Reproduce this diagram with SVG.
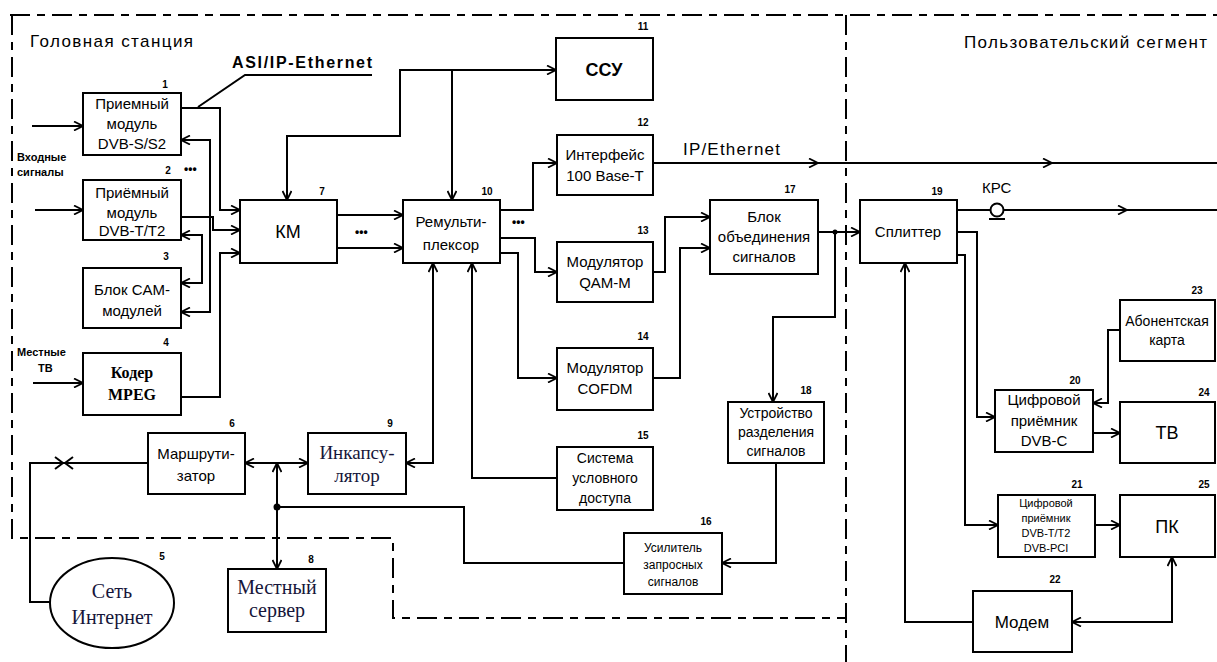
<svg xmlns="http://www.w3.org/2000/svg" width="1217" height="662" viewBox="0 0 1217 662">
  <style>
    .box { fill: #fff; stroke: #000; stroke-width: 2; }
    .ln { fill: none; stroke: #000; stroke-width: 2; }
    .frame { fill: none; stroke: #000; stroke-width: 2; stroke-dasharray: 20 7 8 7; }
    .t { font-family: "Liberation Sans", Arial, sans-serif; font-size: 14px; fill: #000; text-anchor: middle; }
    .f15 { font-size: 15px; }
    .big { font-size: 18px; }
    .sm { font-size: 12px; }
    .xs { font-size: 11px; }
    .serif { font-family: "Liberation Serif", "Times New Roman", serif; fill: #16163a; font-size: 20px; }
    .num { font-family: "Liberation Sans", Arial, sans-serif; font-size: 10px; font-weight: bold; fill: #000; text-anchor: middle; }
    .lbl { font-family: "Liberation Sans", Arial, sans-serif; fill: #000; }
  </style>
  <defs>
    <marker id="a" viewBox="0 0 10 10" refX="10" refY="5" markerWidth="10" markerHeight="10" markerUnits="userSpaceOnUse" orient="auto-start-reverse">
      <path d="M1,0.5 L10,5 L1,9.5" fill="none" stroke="#000" stroke-width="1.8"/>
    </marker>
  </defs>

  <rect width="1217" height="662" fill="#fff"/>

  <!-- area borders -->
  <g id="frame">
    <path class="frame" d="M10,15 H1217"/>
    <path class="frame" d="M12,15 V538 H393 V618 H846"/>
    <path class="frame" d="M846,15 V662"/>
    <text class="lbl" x="30" y="47" style="font-size:17px" textLength="163">Головная станция</text>
    <text class="lbl" x="964" y="48" style="font-size:17px" textLength="243">Пользовательский сегмент</text>
  </g>

  <!-- connectors -->
  <g id="connectors">
    <!-- input signals -->
    <path class="ln" d="M32,126 H83" marker-end="url(#a)"/>
    <path class="ln" d="M35,210 H83" marker-end="url(#a)"/>
    <path class="ln" d="M33,383 H83" marker-end="url(#a)"/>
    <!-- receivers / encoder to KM -->
    <path class="ln" d="M181,108 H220 V210 H240" marker-end="url(#a)"/>
    <path class="ln" d="M181,217 H213 V230 H240" marker-end="url(#a)"/>
    <path class="ln" d="M181,397 H220 V253 H240" marker-end="url(#a)"/>
    <!-- CAM links -->
    <path class="ln" d="M181,140 H210 V312 H181" marker-start="url(#a)" marker-end="url(#a)"/>
    <path class="ln" d="M181,235 H202 V283 H181" marker-start="url(#a)" marker-end="url(#a)"/>
    <!-- ASI/IP-Ethernet leader -->
    <path class="ln" d="M198,107 L245,75 H372" stroke-width="1.5"/>
    <!-- KM to remux -->
    <path class="ln" d="M337,215 H403" marker-end="url(#a)"/>
    <path class="ln" d="M337,248 H403" marker-end="url(#a)"/>
    <!-- control bus -->
    <path class="ln" d="M556,70 H400 V136 H287 V200" marker-start="url(#a)" marker-end="url(#a)"/>
    <path class="ln" d="M452,70 V200" marker-end="url(#a)"/>
    <!-- remux outputs -->
    <path class="ln" d="M500,210 H533 V163 H557" marker-end="url(#a)"/>
    <path class="ln" d="M500,238 H535 V272 H557" marker-end="url(#a)"/>
    <path class="ln" d="M500,253 H518 V378 H557" marker-end="url(#a)"/>
    <!-- IP/Ethernet -->
    <path class="ln" d="M653,163 H818" marker-end="url(#a)"/>
    <path class="ln" d="M818,163 H1052" marker-end="url(#a)"/>
    <path class="ln" d="M1052,163 H1217"/>
    <!-- modulators to combiner -->
    <path class="ln" d="M653,272 H665 V217 H710" marker-end="url(#a)"/>
    <path class="ln" d="M653,378 H680 V248 H710" marker-end="url(#a)"/>
    <!-- combiner to splitter and return path -->
    <path class="ln" d="M818,232 H860" marker-end="url(#a)"/>
    <circle cx="835" cy="232" r="2.5"/>
    <path class="ln" d="M835,232 V317 H773 V402" marker-end="url(#a)"/>
    <path class="ln" d="M776,463 V563 H722" marker-end="url(#a)"/>
    <path class="ln" d="M624,563 H464 V507 H277"/>
    <circle cx="277" cy="507" r="3.5"/>
    <path class="ln" d="M277,507 V463" marker-end="url(#a)"/>
    <path class="ln" d="M277,507 V569" marker-end="url(#a)"/>
    <!-- router / encapsulator / CAS -->
    <path class="ln" d="M245,463 H308" marker-start="url(#a)" marker-end="url(#a)"/>
    <path class="ln" d="M433,263 V463 H406" marker-start="url(#a)" marker-end="url(#a)"/>
    <path class="ln" d="M557,478 H472 V263" marker-end="url(#a)"/>
    <!-- router to internet -->
    <path class="ln" d="M148,463 H30 V602 H51"/>
    <polyline class="ln" points="55,457 63,463 55,469"/>
    <polyline class="ln" points="73,457 65,463 73,469"/>
    <!-- subscriber side -->
    <path class="ln" d="M957,210 H1127" marker-end="url(#a)"/>
    <path class="ln" d="M1127,210 H1217"/>
    <circle cx="997" cy="210" r="6.5" fill="#fff" stroke="#000" stroke-width="2"/>
    <path class="ln" d="M989,219 H1005"/>
    <path class="ln" d="M957,232 H977 V417 H995" marker-end="url(#a)"/>
    <path class="ln" d="M957,255 H965 V525 H998" marker-end="url(#a)"/>
    <path class="ln" d="M973,622 H905 V263" marker-end="url(#a)"/>
    <path class="ln" d="M1120,330 H1108 V403 H1093" marker-end="url(#a)"/>
    <path class="ln" d="M1093,433 H1120" marker-end="url(#a)"/>
    <path class="ln" d="M1095,525 H1120" marker-end="url(#a)"/>
    <path class="ln" d="M1172,557 V622 H1072" marker-start="url(#a)" marker-end="url(#a)"/>
  </g>

  <!-- free labels -->
  <g id="labels">
    <text class="lbl" x="232" y="68" style="font-size:16px;font-weight:bold" textLength="140">ASI/IP-Ethernet</text>
    <text class="lbl" x="683" y="155" style="font-size:17px" textLength="97">IP/Ethernet</text>
    <text class="lbl" x="982" y="193" style="font-size:15px">КРС</text>
    <text class="lbl" x="17" y="161" style="font-size:11px;font-weight:bold">Входные</text>
    <text class="lbl" x="17" y="176" style="font-size:11px;font-weight:bold">сигналы</text>
    <text class="lbl" x="17" y="356" style="font-size:11px;font-weight:bold">Местные</text>
    <text class="lbl" x="38" y="372" style="font-size:11px;font-weight:bold">ТВ</text>
    <text class="lbl" x="184" y="173" style="font-size:12px;font-weight:bold">•••</text>
    <text class="lbl" x="355" y="236" style="font-size:12px;font-weight:bold">•••</text>
    <text class="lbl" x="512" y="226" style="font-size:12px;font-weight:bold">•••</text>
  </g>

  <g id="n1">
    <rect class="box" x="83" y="93" width="98" height="62"/>
    <text class="num" x="165" y="88">1</text>
    <text class="t f15" x="132" y="109">Приемный</text>
    <text class="t f15" x="132" y="129">модуль</text>
    <text class="t f15" x="132" y="149">DVB-S/S2</text>
  </g>
  <g id="n2">
    <rect class="box" x="83" y="180" width="98" height="60"/>
    <text class="num" x="168" y="174">2</text>
    <text class="t f15" x="132" y="198">Приёмный</text>
    <text class="t f15" x="132" y="218">модуль</text>
    <text class="t f15" x="132" y="236">DVB-T/T2</text>
  </g>
  <g id="n3">
    <rect class="box" x="83" y="268" width="98" height="60"/>
    <text class="num" x="166" y="260">3</text>
    <text class="t f15" x="132" y="295">Блок CAM-</text>
    <text class="t f15" x="132" y="316">модулей</text>
  </g>
  <g id="n4">
    <rect class="box" x="83" y="353" width="98" height="62"/>
    <text class="num" x="166" y="346">4</text>
    <text class="t serif" x="132" y="378" style="font-size:16px;font-weight:bold;fill:#000">Кодер</text>
    <text class="t serif" x="132" y="400" style="font-size:16px;font-weight:bold;fill:#000">MPEG</text>
  </g>
  <g id="n5">
    <ellipse cx="112" cy="603" rx="62" ry="45" fill="#fff" stroke="#000" stroke-width="2"/>
    <text class="num" x="162" y="560">5</text>
    <text class="t serif" x="112" y="598">Сеть</text>
    <text class="t serif" x="112" y="624">Интернет</text>
  </g>
  <g id="n6">
    <rect class="box" x="148" y="433" width="97" height="61"/>
    <text class="num" x="232" y="427">6</text>
    <text class="t f15" x="196" y="459">Маршрути-</text>
    <text class="t f15" x="196" y="481">затор</text>
  </g>
  <g id="n7">
    <rect class="box" x="240" y="200" width="97" height="63"/>
    <text class="num" x="322" y="195">7</text>
    <text class="t big" x="288" y="238">КМ</text>
  </g>
  <g id="n8">
    <rect class="box" x="228" y="569" width="98" height="63"/>
    <text class="num" x="311" y="563">8</text>
    <text class="t serif" x="277" y="594">Местный</text>
    <text class="t serif" x="277" y="617">сервер</text>
  </g>
  <g id="n9">
    <rect class="box" x="308" y="433" width="98" height="61"/>
    <text class="num" x="390" y="427">9</text>
    <text class="t serif" x="357" y="459" style="font-size:19px">Инкапсу-</text>
    <text class="t serif" x="357" y="482" style="font-size:19px">лятор</text>
  </g>
  <g id="n10">
    <rect class="box" x="403" y="200" width="97" height="63"/>
    <text class="num" x="487" y="195">10</text>
    <text class="t f15" x="451" y="227">Ремульти-</text>
    <text class="t f15" x="451" y="250">плексор</text>
  </g>
  <g id="n11">
    <rect class="box" x="556" y="38" width="97" height="62"/>
    <text class="num" x="643" y="30">11</text>
    <text class="t" x="604" y="76" style="font-size:18px;font-weight:bold">ССУ</text>
  </g>
  <g id="n12">
    <rect class="box" x="557" y="135" width="96" height="60"/>
    <text class="num" x="643" y="126">12</text>
    <text class="t f15" x="605" y="160">Интерфейс</text>
    <text class="t f15" x="605" y="181">100 Base-T</text>
  </g>
  <g id="n13">
    <rect class="box" x="557" y="242" width="96" height="60"/>
    <text class="num" x="643" y="234">13</text>
    <text class="t f15" x="605" y="267">Модулятор</text>
    <text class="t f15" x="605" y="288">QAM-M</text>
  </g>
  <g id="n14">
    <rect class="box" x="557" y="348" width="96" height="62"/>
    <text class="num" x="643" y="340">14</text>
    <text class="t f15" x="605" y="373">Модулятор</text>
    <text class="t f15" x="605" y="394">COFDM</text>
  </g>
  <g id="n15">
    <rect class="box" x="557" y="447" width="96" height="63"/>
    <text class="num" x="643" y="439">15</text>
    <text class="t" x="605" y="463">Система</text>
    <text class="t" x="605" y="483">условного</text>
    <text class="t" x="605" y="503">доступа</text>
  </g>
  <g id="n16">
    <rect class="box" x="624" y="533" width="98" height="61"/>
    <text class="num" x="706" y="525">16</text>
    <text class="t sm" x="673" y="552">Усилитель</text>
    <text class="t sm" x="673" y="569">запросных</text>
    <text class="t sm" x="673" y="586">сигналов</text>
  </g>
  <g id="n17">
    <rect class="box" x="710" y="200" width="108" height="74"/>
    <text class="num" x="790" y="193">17</text>
    <text class="t f15" x="764" y="222">Блок</text>
    <text class="t f15" x="764" y="242">объединения</text>
    <text class="t f15" x="764" y="262">сигналов</text>
  </g>
  <g id="n18">
    <rect class="box" x="728" y="402" width="96" height="61"/>
    <text class="num" x="806" y="394">18</text>
    <text class="t" x="776" y="418">Устройство</text>
    <text class="t" x="776" y="437">разделения</text>
    <text class="t" x="776" y="456">сигналов</text>
  </g>
  <g id="n19">
    <rect class="box" x="860" y="200" width="97" height="63"/>
    <text class="num" x="937" y="195">19</text>
    <text class="t f15" x="908" y="237">Сплиттер</text>
  </g>
  <g id="n20">
    <rect class="box" x="995" y="390" width="98" height="62"/>
    <text class="num" x="1075" y="384">20</text>
    <text class="t f15" x="1044" y="405">Цифровой</text>
    <text class="t f15" x="1044" y="426">приёмник</text>
    <text class="t f15" x="1044" y="446">DVB-C</text>
  </g>
  <g id="n21">
    <rect class="box" x="998" y="495" width="97" height="62"/>
    <text class="num" x="1077" y="488">21</text>
    <text class="t xs" x="1046" y="507">Цифровой</text>
    <text class="t xs" x="1046" y="522">приёмник</text>
    <text class="t xs" x="1046" y="537">DVB-T/T2</text>
    <text class="t xs" x="1046" y="552">DVB-PCI</text>
  </g>
  <g id="n22">
    <rect class="box" x="973" y="591" width="99" height="61"/>
    <text class="num" x="1055" y="583">22</text>
    <text class="t" x="1022" y="628" style="font-size:17px">Модем</text>
  </g>
  <g id="n23">
    <rect class="box" x="1120" y="300" width="95" height="61"/>
    <text class="num" x="1197" y="294">23</text>
    <text class="t" x="1167" y="326">Абонентская</text>
    <text class="t" x="1167" y="345">карта</text>
  </g>
  <g id="n24">
    <rect class="box" x="1120" y="402" width="95" height="61"/>
    <text class="num" x="1204" y="396">24</text>
    <text class="t big" x="1167" y="439">ТВ</text>
  </g>
  <g id="n25">
    <rect class="box" x="1120" y="495" width="95" height="62"/>
    <text class="num" x="1204" y="488">25</text>
    <text class="t big" x="1167" y="533">ПК</text>
  </g>
</svg>
